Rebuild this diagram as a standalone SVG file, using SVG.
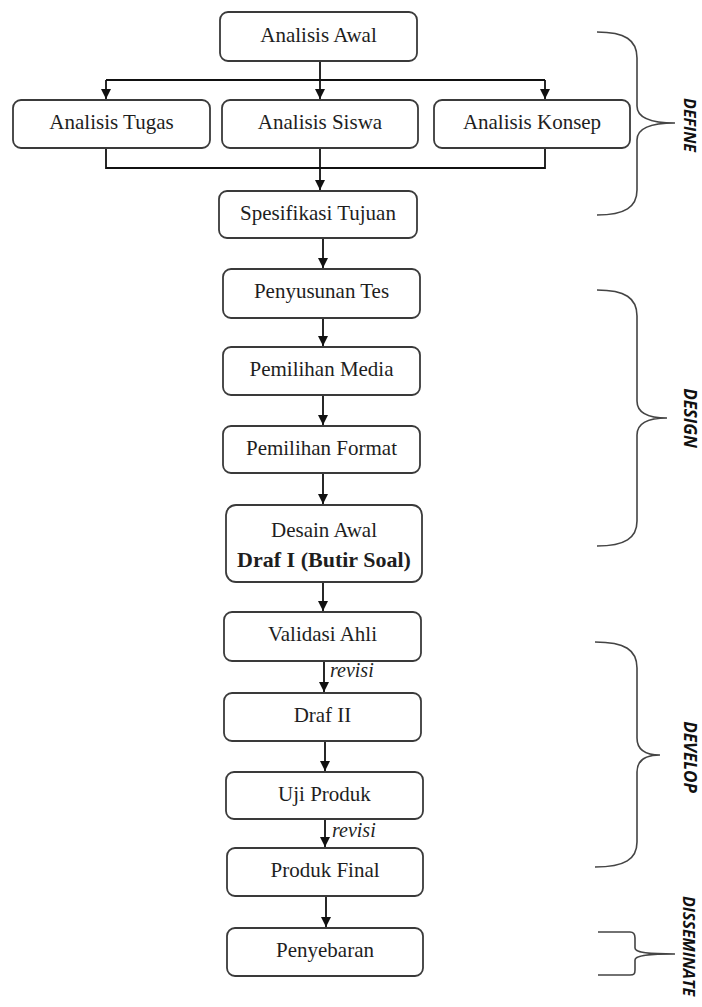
<svg xmlns="http://www.w3.org/2000/svg" width="702" height="1007" viewBox="0 0 702 1007">
<style>
.box{fill:#fff;stroke:#3a3a3a;stroke-width:1.8}
.t{font-family:"Liberation Serif","Times New Roman",serif;font-size:21px;fill:#1e1e1e;text-anchor:middle}
.tb{font-weight:bold;font-size:22px}
.rev{font-family:"Liberation Serif","Times New Roman",serif;font-style:italic;font-size:20px;fill:#1e1e1e}
.c{fill:none;stroke:#111;stroke-width:1.8}
.br{fill:none;stroke:#444;stroke-width:1.6}
.ph{font-family:"Open Sans","DejaVu Sans",sans-serif;font-weight:bold;font-style:italic;font-size:16px;fill:#111}
</style>
<defs>
<marker id="ah" viewBox="0 0 10 10" refX="10" refY="5" markerWidth="10" markerHeight="11" markerUnits="userSpaceOnUse" orient="auto">
<path d="M0,0 L10,5 L0,10 z" fill="#111"/>
</marker>
</defs>
<rect width="702" height="1007" fill="#fff"/>
<g id="connectors">
<path class="c" d="M320,61 V99" marker-end="url(#ah)"/>
<path class="c" d="M106,80 H545"/>
<path class="c" d="M106,80 V99" marker-end="url(#ah)"/>
<path class="c" d="M545,80 V99" marker-end="url(#ah)"/>
<path class="c" d="M106,148 V168 H545 V148"/>
<path class="c" d="M320,148 V190" marker-end="url(#ah)"/>
<path class="c" d="M323,238 V268" marker-end="url(#ah)"/>
<path class="c" d="M323,318 V346" marker-end="url(#ah)"/>
<path class="c" d="M323,395 V425" marker-end="url(#ah)"/>
<path class="c" d="M323,473 V504" marker-end="url(#ah)"/>
<path class="c" d="M323,582 V611" marker-end="url(#ah)"/>
<path class="c" d="M324,661 V692" marker-end="url(#ah)"/>
<path class="c" d="M325,741 V771" marker-end="url(#ah)"/>
<path class="c" d="M325,819 V847" marker-end="url(#ah)"/>
<path class="c" d="M326,896 V927" marker-end="url(#ah)"/>
<text class="rev" x="330" y="677">revisi</text>
<text class="rev" x="332" y="837">revisi</text>
</g>
<g id="n-awal"><rect class="box" x="220" y="12" width="197" height="49" rx="8"/><text class="t" x="318.5" y="42">Analisis Awal</text></g>
<g id="n-tugas"><rect class="box" x="13" y="100" width="197" height="48" rx="8"/><text class="t" x="111.5" y="129">Analisis Tugas</text></g>
<g id="n-siswa"><rect class="box" x="222" y="100" width="196" height="48" rx="8"/><text class="t" x="320" y="129">Analisis Siswa</text></g>
<g id="n-konsep"><rect class="box" x="434" y="100" width="196" height="48" rx="8"/><text class="t" x="532" y="129">Analisis Konsep</text></g>
<g id="n-spesifikasi"><rect class="box" x="219" y="191" width="198" height="47" rx="8"/><text class="t" x="318" y="220">Spesifikasi Tujuan</text></g>
<g id="n-tes"><rect class="box" x="223" y="269" width="197" height="49" rx="8"/><text class="t" x="321.5" y="298">Penyusunan Tes</text></g>
<g id="n-media"><rect class="box" x="223" y="347" width="197" height="48" rx="8"/><text class="t" x="321.5" y="376">Pemilihan Media</text></g>
<g id="n-format"><rect class="box" x="223" y="426" width="197" height="47" rx="8"/><text class="t" x="321.5" y="455">Pemilihan Format</text></g>
<g id="n-desain"><rect class="box" x="226" y="505" width="196" height="77" rx="10"/><text class="t" x="324" y="537">Desain Awal</text><text class="t tb" x="324" y="567">Draf I (Butir Soal)</text></g>
<g id="n-validasi"><rect class="box" x="224" y="612" width="197" height="49" rx="8"/><text class="t" x="322.5" y="641">Validasi Ahli</text></g>
<g id="n-draf2"><rect class="box" x="224" y="693" width="197" height="48" rx="8"/><text class="t" x="322.5" y="722">Draf II</text></g>
<g id="n-uji"><rect class="box" x="226" y="772" width="197" height="47" rx="8"/><text class="t" x="324.5" y="801">Uji Produk</text></g>
<g id="n-final"><rect class="box" x="227" y="848" width="196" height="48" rx="8"/><text class="t" x="325" y="877">Produk Final</text></g>
<g id="n-penyebaran"><rect class="box" x="227" y="928" width="196" height="48" rx="8"/><text class="t" x="325" y="957">Penyebaran</text></g>
<g id="b-define">
<path class="br" d="M597,32 C625,32 637,40 637,58 L637,106 C637,117 648,123 675,123 C648,123 637,129 637,140 L637,190 C637,207 625,215 597,215"/>
<text class="ph" transform="translate(684,125) rotate(90)" text-anchor="middle">DEFINE</text>
</g>
<g id="b-design">
<path class="br" d="M597,290 C625,290 637,298 637,316 L637,401 C637,412 646,418 667,418 C646,418 637,424 637,435 L637,521 C637,538 625,546 597,546"/>
<text class="ph" transform="translate(684,418) rotate(90)" text-anchor="middle" style="font-size:17px">DESIGN</text>
</g>
<g id="b-develop">
<path class="br" d="M595,642 C625,642 637,650 637,668 L637,738 C637,749 645,755 660,755 C645,755 637,761 637,772 L637,842 C637,859 625,867 595,867"/>
<text class="ph" transform="translate(684,757) rotate(90)" text-anchor="middle" style="font-size:17px">DEVELOP</text>
</g>
<g id="b-disseminate">
<path class="br" d="M598,932 L630,932 C634,932 635,934 635,938 L635,948 C635,952 645,954 675,954 C645,954 635,956 635,960 L635,970 C635,974 634,975 630,975 L598,975"/>
<text class="ph" transform="translate(683,896) rotate(90)" style="font-size:16px">DISSEMINATE</text>
</g>
</svg>
